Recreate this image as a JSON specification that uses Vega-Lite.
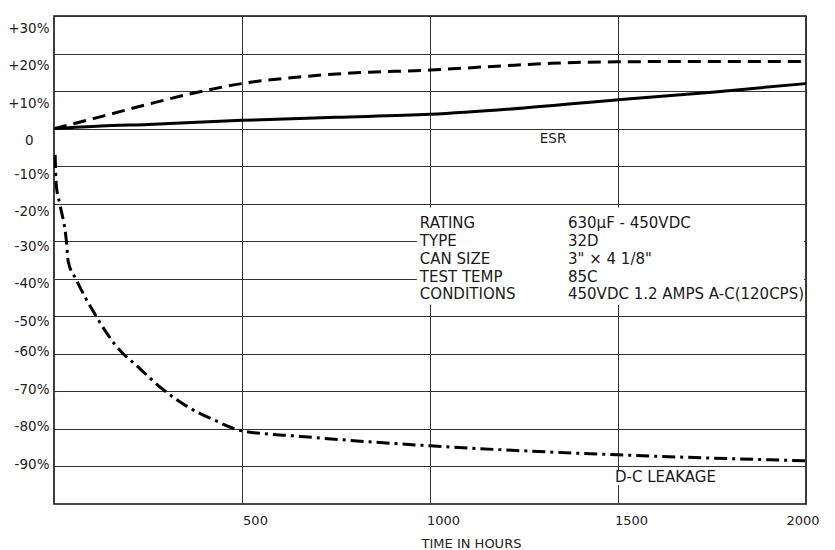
{
  "$schema": "https://vega.github.io/schema/vega-lite/v6.json",
  "autosize": "none",
  "width": 752,
  "height": 488,
  "padding": {"left": 54, "top": 16, "right": 29, "bottom": 46},
  "background": "white",
  "config": {
    "view": {"stroke": "#111", "strokeWidth": 1.6, "fill": "white"},
    "font": "DejaVu Sans"
  },
  "datasets": {
    "curves": [
      {"series": "ESR", "hours": 0, "pct": 0},
      {"series": "ESR", "hours": 125, "pct": 0.7},
      {"series": "ESR", "hours": 250, "pct": 1.1},
      {"series": "ESR", "hours": 500, "pct": 2.2},
      {"series": "ESR", "hours": 750, "pct": 3.0},
      {"series": "ESR", "hours": 1000, "pct": 3.8},
      {"series": "ESR", "hours": 1250, "pct": 5.5},
      {"series": "ESR", "hours": 1500, "pct": 7.7},
      {"series": "ESR", "hours": 1750, "pct": 9.7},
      {"series": "ESR", "hours": 2000, "pct": 12.0},
      {"series": "CAP", "hours": 0, "pct": 0},
      {"series": "CAP", "hours": 125, "pct": 3.2},
      {"series": "CAP", "hours": 258, "pct": 6.7},
      {"series": "CAP", "hours": 391, "pct": 9.9},
      {"series": "CAP", "hours": 500, "pct": 12.0},
      {"series": "CAP", "hours": 657, "pct": 13.8},
      {"series": "CAP", "hours": 790, "pct": 14.8},
      {"series": "CAP", "hours": 1000, "pct": 15.6},
      {"series": "CAP", "hours": 1189, "pct": 16.7},
      {"series": "CAP", "hours": 1322, "pct": 17.4},
      {"series": "CAP", "hours": 1500, "pct": 17.8},
      {"series": "CAP", "hours": 1750, "pct": 17.9},
      {"series": "CAP", "hours": 2000, "pct": 17.9},
      {"series": "LEAK", "hours": 3, "pct": -7},
      {"series": "LEAK", "hours": 6, "pct": -15},
      {"series": "LEAK", "hours": 16, "pct": -20.3},
      {"series": "LEAK", "hours": 33, "pct": -30},
      {"series": "LEAK", "hours": 38, "pct": -35.5},
      {"series": "LEAK", "hours": 59, "pct": -40.2},
      {"series": "LEAK", "hours": 114, "pct": -50.3},
      {"series": "LEAK", "hours": 162, "pct": -57.5},
      {"series": "LEAK", "hours": 229, "pct": -64},
      {"series": "LEAK", "hours": 290, "pct": -69.5},
      {"series": "LEAK", "hours": 354, "pct": -74},
      {"series": "LEAK", "hours": 423, "pct": -77.5},
      {"series": "LEAK", "hours": 500, "pct": -80.5},
      {"series": "LEAK", "hours": 657, "pct": -82},
      {"series": "LEAK", "hours": 1000, "pct": -84.5},
      {"series": "LEAK", "hours": 1500, "pct": -86.9},
      {"series": "LEAK", "hours": 2000, "pct": -88.5}
    ],
    "boxes": [
      {"h1": 965, "h2": 1995, "p1": -21, "p2": -47},
      {"h1": 1490, "h2": 1525, "p1": -91.3, "p2": -95}
    ],
    "notes": [
      {"text": "RATING", "hours": 973, "pct": -25.1},
      {"text": "TYPE", "hours": 973, "pct": -29.9},
      {"text": "CAN SIZE", "hours": 973, "pct": -34.7},
      {"text": "TEST TEMP", "hours": 973, "pct": -39.5},
      {"text": "CONDITIONS", "hours": 973, "pct": -44.1},
      {"text": "630µF - 450VDC", "hours": 1367, "pct": -25.1},
      {"text": "32D", "hours": 1367, "pct": -29.9},
      {"text": "3\" × 4 1/8\"", "hours": 1367, "pct": -34.7},
      {"text": "85C", "hours": 1367, "pct": -39.5},
      {"text": "450VDC  1.2 AMPS  A-C(120CPS)", "hours": 1367, "pct": -44.1}
    ],
    "labels": [
      {"text": "D-C LEAKAGE", "hours": 1492, "pct": -92.8}
    ],
    "esr": [
      {"text": "ESR", "hours": 1292, "pct": -2.7}
    ]
  },
  "encoding": {
    "x": {
      "field": "hours", "type": "quantitative",
      "scale": {"domain": [0, 2000], "nice": false, "zero": false},
      "axis": {
        "values": [500, 1000, 1500, 2000],
        "format": "d",
        "grid": true, "gridColor": "#333", "gridWidth": 1,
        "ticks": false, "domain": false,
        "labelOffset": 13, "labelPadding": 10,
        "labelFontSize": 13, "labelColor": "#222", "labelFont": "DejaVu Sans",
        "title": "TIME IN HOURS", "titleFontSize": 13, "titleFontWeight": "normal",
        "titleColor": "#222", "titleFont": "DejaVu Sans",
        "titleX": 417, "titleY": 39, "titleBaseline": "middle", "titleAlign": "center",
        "zindex": 0
      }
    },
    "y": {
      "field": "pct", "type": "quantitative",
      "scale": {"domain": [-100, 30], "nice": false, "zero": false},
      "axis": {
        "values": [30, 20, 10, 0, -10, -20, -30, -40, -50, -60, -70, -80, -90],
        "grid": true, "gridColor": "#333", "gridWidth": 1,
        "ticks": false, "domain": false,
        "labelExpr": "datum.value > 0 ? '+' + datum.value + '%' : (datum.value == 0 ? '0' : datum.value + '%')",
        "labelOffset": {"condition": [{"test": "datum.value >= 0", "value": 12}, {"test": "datum.value >= -20", "value": 8}, {"test": "datum.value >= -50", "value": 5}], "value": -2},
        "labelPadding": {"condition": {"test": "datum.value == 0", "value": 21}, "value": 5},
        "labelFontSize": 13.5, "labelColor": "#222", "labelFont": "DejaVu Sans",
        "title": null,
        "zindex": 0
      }
    }
  },
  "layer": [
    {
      "data": {"name": "boxes"},
      "mark": {"type": "rect", "fill": "white", "opacity": 1},
      "encoding": {
        "x": {"field": "h1", "type": "quantitative"},
        "x2": {"field": "h2"},
        "y": {"field": "p1", "type": "quantitative"},
        "y2": {"field": "p2"}
      }
    },
    {
      "data": {"name": "curves"},
      "transform": [{"filter": "datum.series == 'ESR'"}],
      "mark": {"type": "line", "color": "black", "strokeWidth": 3, "interpolate": "monotone"}
    },
    {
      "data": {"name": "curves"},
      "transform": [{"filter": "datum.series == 'CAP'"}],
      "mark": {"type": "line", "color": "black", "strokeWidth": 3, "interpolate": "monotone", "strokeDash": [13, 7]}
    },
    {
      "data": {"name": "curves"},
      "transform": [{"filter": "datum.series == 'LEAK'"}],
      "mark": {"type": "line", "color": "black", "strokeWidth": 3, "interpolate": "monotone", "strokeDash": [13, 5, 3, 5]}
    },
    {
      "data": {"name": "notes"},
      "mark": {"type": "text", "align": "left", "baseline": "middle", "fontSize": 15, "color": "#1a1a1a", "font": "DejaVu Sans"},
      "encoding": {"text": {"field": "text"}}
    },
    {
      "data": {"name": "labels"},
      "mark": {"type": "text", "align": "left", "baseline": "middle", "fontSize": 15, "color": "#1a1a1a", "font": "DejaVu Sans"},
      "encoding": {"text": {"field": "text"}}
    },
    {
      "data": {"name": "esr"},
      "mark": {"type": "text", "align": "left", "baseline": "middle", "fontSize": 13.5, "color": "#1a1a1a", "font": "DejaVu Sans"},
      "encoding": {"text": {"field": "text"}}
    }
  ]
}
